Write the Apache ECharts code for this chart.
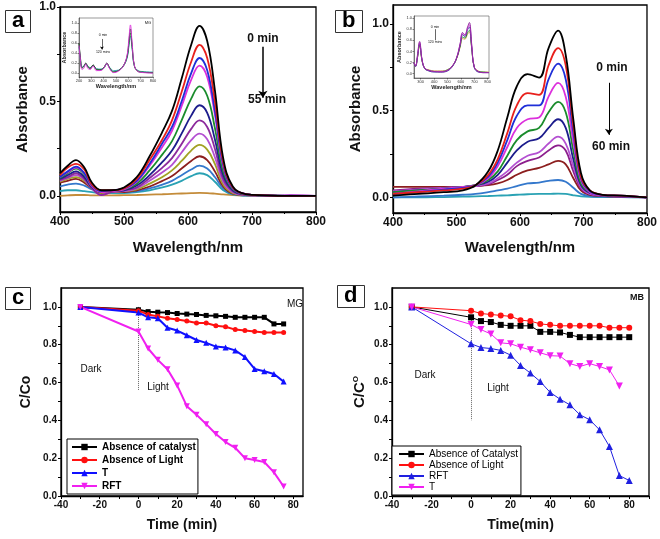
<!DOCTYPE html>
<html>
<head>
<meta charset="utf-8">
<script src="https://cdn.jsdelivr.net/npm/echarts@6/dist/echarts.min.js"></script>
<style>
html, body { margin: 0; padding: 0; background: #fff; }
#main { width: 660px; height: 539px; }
</style>
</head>
<body>
<div id="main"></div>
<script>
// ---- panel a : MG spectra, 0 -> 55 min ----
const waveA = [400, 412, 425, 438, 450, 465, 480, 500, 520, 540, 560, 575, 590, 605, 618, 630, 642, 655, 670, 690, 720, 760, 800];
const specA = [
  [0.12, 0.16, 0.19, 0.15, 0.07, 0.03, 0.03, 0.045, 0.10, 0.21, 0.34, 0.45, 0.62, 0.80, 0.90, 0.82, 0.56, 0.20, 0.05, 0.01, 0.003, 0, 0],
  [0.11, 0.15, 0.17, 0.14, 0.06, 0.03, 0.03, 0.04, 0.09, 0.19, 0.30, 0.40, 0.55, 0.71, 0.80, 0.73, 0.50, 0.18, 0.045, 0.01, 0.003, 0, 0],
  [0.10, 0.13, 0.155, 0.12, 0.055, 0.025, 0.03, 0.04, 0.08, 0.17, 0.28, 0.365, 0.50, 0.65, 0.73, 0.665, 0.45, 0.165, 0.04, 0.01, 0.003, 0, 0],
  [0.10, 0.125, 0.15, 0.12, 0.05, 0.02, 0.025, 0.035, 0.075, 0.16, 0.26, 0.345, 0.475, 0.615, 0.69, 0.63, 0.43, 0.155, 0.04, 0.01, 0.003, 0, 0],
  [0.095, 0.12, 0.145, 0.115, 0.05, 0.02, 0.025, 0.035, 0.065, 0.135, 0.22, 0.29, 0.40, 0.515, 0.58, 0.53, 0.36, 0.13, 0.035, 0.008, 0.003, 0, 0],
  [0.09, 0.11, 0.13, 0.10, 0.045, 0.02, 0.025, 0.03, 0.055, 0.11, 0.18, 0.24, 0.33, 0.425, 0.48, 0.44, 0.30, 0.11, 0.03, 0.008, 0.003, 0, 0],
  [0.085, 0.10, 0.12, 0.09, 0.04, 0.005, 0.02, 0.03, 0.045, 0.095, 0.15, 0.20, 0.275, 0.355, 0.40, 0.365, 0.25, 0.09, 0.025, 0.006, 0.003, 0, 0],
  [0.08, 0.095, 0.11, 0.085, 0.04, 0.005, 0.02, 0.025, 0.04, 0.08, 0.125, 0.165, 0.23, 0.295, 0.33, 0.30, 0.205, 0.075, 0.02, 0.005, 0.002, 0.005, 0],
  [0.075, 0.09, 0.10, 0.08, 0.04, 0.01, 0.02, 0.025, 0.035, 0.065, 0.10, 0.135, 0.185, 0.24, 0.27, 0.245, 0.17, 0.06, 0.015, 0.005, 0.002, 0, 0],
  [0.07, 0.08, 0.09, 0.07, 0.04, 0.015, 0.02, 0.02, 0.03, 0.05, 0.08, 0.105, 0.145, 0.185, 0.21, 0.19, 0.13, 0.05, 0.012, 0.004, 0.002, 0, 0],
  [0.05, 0.06, 0.065, 0.055, 0.035, 0.025, 0.025, 0.02, 0.025, 0.04, 0.06, 0.08, 0.11, 0.14, 0.16, 0.145, 0.10, 0.04, 0.01, 0.003, 0.001, 0, 0],
  [0.025, 0.03, 0.03, 0.025, 0.02, 0.015, 0.015, 0.015, 0.02, 0.03, 0.045, 0.06, 0.08, 0.105, 0.12, 0.11, 0.075, 0.03, 0.008, 0.002, 0.001, 0, 0],
  [0, 0.003, 0.005, 0.005, 0.003, 0.003, 0.003, 0.004, 0.005, 0.007, 0.009, 0.011, 0.013, 0.015, 0.016, 0.015, 0.012, 0.008, 0.004, 0.002, 0.001, 0, 0]
];
const colorsA = ['#000000', '#e8201c', '#1f2fd8', '#dc30dc', '#1a8c2c', '#1c1c8c', '#8c2a9c', '#b450d2', '#a2a224', '#8c1e1e', '#3478cc', '#2aa2b4', '#c48c3a'];

// ---- panel b : MB spectra, 0 -> 60 min ----
const waveB = [400, 440, 480, 510, 530, 550, 565, 580, 595, 612, 630, 645, 660, 672, 684, 696, 710, 730, 760, 800];
const specB = [
  [0.01, 0.02, 0.03, 0.04, 0.07, 0.15, 0.27, 0.46, 0.64, 0.71, 0.69, 0.86, 0.96, 0.82, 0.45, 0.14, 0.04, 0.015, 0.01, 0],
  [0.02, 0.03, 0.04, 0.05, 0.07, 0.13, 0.22, 0.37, 0.53, 0.60, 0.59, 0.76, 0.86, 0.76, 0.41, 0.12, 0.04, 0.015, 0.01, 0],
  [0.02, 0.03, 0.045, 0.055, 0.07, 0.12, 0.20, 0.33, 0.47, 0.53, 0.53, 0.68, 0.77, 0.68, 0.37, 0.11, 0.035, 0.015, 0.01, 0],
  [0.02, 0.035, 0.05, 0.06, 0.07, 0.11, 0.18, 0.29, 0.40, 0.45, 0.46, 0.58, 0.66, 0.58, 0.32, 0.10, 0.03, 0.012, 0.008, 0],
  [0.03, 0.04, 0.05, 0.06, 0.07, 0.10, 0.15, 0.24, 0.33, 0.38, 0.40, 0.49, 0.55, 0.49, 0.27, 0.08, 0.03, 0.012, 0.008, 0],
  [0.03, 0.04, 0.05, 0.06, 0.07, 0.09, 0.13, 0.20, 0.27, 0.32, 0.34, 0.40, 0.45, 0.40, 0.22, 0.07, 0.025, 0.01, 0.006, 0],
  [0.035, 0.045, 0.055, 0.06, 0.065, 0.08, 0.11, 0.15, 0.20, 0.24, 0.26, 0.31, 0.35, 0.31, 0.18, 0.06, 0.02, 0.01, 0.005, 0],
  [0.04, 0.05, 0.055, 0.06, 0.065, 0.075, 0.10, 0.13, 0.18, 0.21, 0.23, 0.27, 0.30, 0.27, 0.15, 0.05, 0.02, 0.01, 0.005, 0],
  [0.06, 0.06, 0.06, 0.06, 0.065, 0.07, 0.08, 0.10, 0.13, 0.155, 0.17, 0.19, 0.21, 0.19, 0.11, 0.04, 0.015, 0.008, 0.004, 0],
  [0, 0.005, 0.01, 0.015, 0.02, 0.03, 0.04, 0.05, 0.065, 0.08, 0.085, 0.095, 0.10, 0.09, 0.055, 0.02, 0.008, 0.004, 0.002, 0],
  [0, 0, 0.002, 0.004, 0.006, 0.008, 0.01, 0.012, 0.015, 0.018, 0.02, 0.02, 0.022, 0.02, 0.012, 0.006, 0.003, 0.002, 0.001, 0]
];
const colorsB = ['#000000', '#e8201c', '#1f2fd8', '#dc30dc', '#1a8c2c', '#1c1c8c', '#b450d2', '#8c1e8c', '#8c1e1e', '#3478cc', '#2aa2b4'];

// ---- insets (full range spectra, 0 -> 120 mins) ----
const waveIA = [200, 210, 225, 240, 255, 270, 290, 315, 340, 370, 400, 425, 450, 480, 520, 560, 590, 605, 617, 630, 650, 680, 720, 800];
const specIA = [
  [0.52, 0.30, 0.12, 0.15, 0.18, 0.15, 0.11, 0.15, 0.09, 0.08, 0.10, 0.18, 0.11, 0.05, 0.06, 0.14, 0.30, 0.54, 0.74, 0.50, 0.13, 0.05, 0.03, 0.02],
  [0.58, 0.33, 0.11, 0.14, 0.19, 0.14, 0.10, 0.16, 0.08, 0.07, 0.10, 0.19, 0.10, 0.03, 0.05, 0.14, 0.32, 0.58, 0.80, 0.53, 0.13, 0.04, 0.02, 0.01],
  [0.60, 0.35, 0.10, 0.13, 0.20, 0.13, 0.09, 0.16, 0.07, 0.06, 0.10, 0.20, 0.09, 0.02, 0.05, 0.15, 0.34, 0.64, 0.88, 0.58, 0.14, 0.03, 0.015, 0.005],
  [0.55, 0.30, 0.07, 0.10, 0.18, 0.10, 0.07, 0.14, 0.05, 0.05, 0.09, 0.19, 0.08, 0.01, 0.04, 0.14, 0.36, 0.70, 0.96, 0.62, 0.14, 0.03, 0.01, 0]
];
const colorsIA = ['#2aa2b4', '#1a8c2c', '#333333', '#dc30dc'];

const waveIB = [250, 262, 275, 292, 310, 330, 360, 400, 450, 500, 540, 570, 595, 612, 630, 650, 664, 680, 700, 730, 770, 810];
const specIB = [
  [0.18, 0.14, 0.27, 0.50, 0.23, 0.10, 0.07, 0.05, 0.05, 0.07, 0.15, 0.28, 0.48, 0.63, 0.62, 0.71, 0.75, 0.47, 0.12, 0.05, 0.03, 0.03],
  [0.19, 0.14, 0.28, 0.52, 0.24, 0.10, 0.06, 0.04, 0.04, 0.07, 0.15, 0.29, 0.50, 0.66, 0.64, 0.74, 0.78, 0.48, 0.12, 0.04, 0.03, 0.02],
  [0.19, 0.13, 0.28, 0.54, 0.24, 0.09, 0.05, 0.03, 0.03, 0.05, 0.14, 0.29, 0.52, 0.70, 0.67, 0.79, 0.84, 0.50, 0.11, 0.03, 0.02, 0.02],
  [0.20, 0.14, 0.30, 0.56, 0.25, 0.10, 0.06, 0.04, 0.04, 0.06, 0.15, 0.30, 0.54, 0.72, 0.69, 0.82, 0.88, 0.53, 0.12, 0.04, 0.02, 0.02],
  [0.20, 0.14, 0.32, 0.58, 0.26, 0.10, 0.06, 0.04, 0.03, 0.06, 0.15, 0.30, 0.55, 0.74, 0.70, 0.84, 0.92, 0.55, 0.12, 0.04, 0.02, 0.02]
];
const colorsIB = ['#d49a40', '#1a8c2c', '#1c1c8c', '#dc30dc', '#8c2a9c'];

// ---- panel c : MG degradation ----
const timeC = [-30, 0, 5, 10, 15, 20, 25, 30, 35, 40, 45, 50, 55, 60, 65, 70, 75];
const cNoCatalyst = [1.0, 0.985, 0.975, 0.972, 0.97, 0.965, 0.962, 0.96, 0.955, 0.953, 0.95, 0.945, 0.945, 0.945, 0.945, 0.91, 0.91];
const cNoLight = [1.0, 0.98, 0.96, 0.95, 0.94, 0.933, 0.925, 0.915, 0.915, 0.9, 0.895, 0.88, 0.875, 0.87, 0.865, 0.865, 0.865];
const cT = [1.0, 0.97, 0.945, 0.94, 0.89, 0.875, 0.85, 0.825, 0.81, 0.79, 0.785, 0.77, 0.735, 0.672, 0.66, 0.645, 0.605];
const cRFT = [1.0, 0.87, 0.78, 0.72, 0.67, 0.585, 0.475, 0.43, 0.38, 0.328, 0.285, 0.255, 0.2, 0.19, 0.18, 0.125, 0.05];

// ---- panel d : MB degradation ----
const timeD = [-30, 0, 5, 10, 15, 20, 25, 30, 35, 40, 45, 50, 55, 60, 65, 70, 75, 80];
const dNoCatalyst = [1.0, 0.945, 0.925, 0.92, 0.905, 0.9, 0.9, 0.9, 0.868, 0.868, 0.865, 0.852, 0.84, 0.84, 0.84, 0.84, 0.84, 0.84];
const dNoLight = [1.0, 0.98, 0.965, 0.96, 0.955, 0.95, 0.93, 0.925, 0.91, 0.905, 0.9, 0.9, 0.9, 0.9, 0.9, 0.89, 0.89, 0.89];
const dRFT = [1.0, 0.805, 0.785, 0.78, 0.77, 0.745, 0.69, 0.65, 0.605, 0.548, 0.512, 0.482, 0.43, 0.403, 0.35, 0.262, 0.108, 0.082];
const dT = [1.0, 0.907, 0.88, 0.857, 0.81, 0.805, 0.787, 0.773, 0.757, 0.742, 0.74, 0.7, 0.685, 0.7, 0.685, 0.667, 0.582];

const FONT = '"Liberation Sans", Arial, sans-serif';

function pairs(xs, ys) {
  return ys.map((v, i) => [xs[i], v]);
}

function axis(gridIndex, opt) {
  return Object.assign({
    type: 'value',
    gridIndex: gridIndex,
    splitLine: { show: false },
    axisLine: { onZero: false, lineStyle: { color: '#000', width: 1.3 } },
    axisTick: { inside: false, length: 3, lineStyle: { color: '#000' } },
    nameLocation: 'middle',
    nameTextStyle: { fontFamily: FONT, fontWeight: 'bold', color: '#111' }
  }, opt);
}

function labelStyle(size, digits, values) {
  return {
    customValues: values,
    margin: 4,
    fontFamily: FONT,
    fontWeight: 'bold',
    fontSize: size,
    color: '#111',
    formatter: v => Number(v).toFixed(digits)
  };
}

const series = [];

specA.forEach((ys, i) => series.push({
  type: 'line', name: 'a' + i, xAxisIndex: 0, yAxisIndex: 0,
  data: pairs(waveA, ys), smooth: 0.4, showSymbol: false,
  lineStyle: { width: 1.8, color: colorsA[i] }, z: 30 - i
}));
series[0].markLine = {
  silent: true, symbol: ['none', 'arrow'], symbolSize: 7,
  label: { show: false },
  lineStyle: { color: '#000', width: 1.5, type: 'solid' },
  data: [[{ coord: [717, 0.79] }, { coord: [717, 0.52] }]]
};

specB.forEach((ys, i) => series.push({
  type: 'line', name: 'b' + i, xAxisIndex: 1, yAxisIndex: 1,
  data: pairs(waveB, ys), smooth: 0.4, showSymbol: false,
  lineStyle: { width: 1.8, color: colorsB[i] }, z: 30 - i,
  markLine: i === 0 ? {
    silent: true, symbol: ['none', 'arrow'], symbolSize: 6,
    label: { show: false },
    lineStyle: { color: '#000', width: 1, type: 'solid' },
    data: [[{ coord: [740, 0.66] }, { coord: [740, 0.36] }]]
  } : undefined
}));

specIA.forEach((ys, i) => series.push({
  type: 'line', name: 'ia' + i, xAxisIndex: 4, yAxisIndex: 4,
  data: pairs(waveIA, ys), smooth: 0.4, showSymbol: false,
  lineStyle: { width: 0.9, color: colorsIA[i] },
  markLine: i === 0 ? {
    silent: true, symbol: ['none', 'arrow'], symbolSize: 3,
    label: { show: false },
    lineStyle: { color: '#000', width: 0.6, type: 'solid' },
    data: [[{ coord: [386, 0.68] }, { coord: [386, 0.47] }]]
  } : undefined
}));

specIB.forEach((ys, i) => series.push({
  type: 'line', name: 'ib' + i, xAxisIndex: 5, yAxisIndex: 5,
  data: pairs(waveIB, ys), smooth: 0.4, showSymbol: false,
  lineStyle: { width: 0.9, color: colorsIB[i] },
  markLine: i === 0 ? {
    silent: true, symbol: ['none', 'none'],
    label: { show: false },
    lineStyle: { color: '#000', width: 0.6, type: 'solid' },
    data: [[{ coord: [405, 0.80] }, { coord: [405, 0.60] }]]
  } : undefined
}));

function kinetic(name, xi, xs, ys, color, symbol, rotate, width, size) {
  return {
    type: 'line', name: name, xAxisIndex: xi, yAxisIndex: xi,
    data: pairs(xs, ys), symbol: symbol, symbolRotate: rotate, symbolSize: size,
    itemStyle: { color: color }, lineStyle: { color: color, width: width }, z: 5
  };
}

series.push(kinetic('c|Absence of catalyst', 2, timeC, cNoCatalyst, '#000000', 'rect', 0, 2, 5));
series.push(kinetic('c|Absence of Light', 2, timeC, cNoLight, '#ff1010', 'circle', 0, 2, 5));
series.push(kinetic('c|T', 2, timeC, cT, '#1010ff', 'triangle', 0, 2, 6));
series.push(kinetic('c|RFT', 2, timeC, cRFT, '#f020f0', 'triangle', 180, 2, 6));
series.push(kinetic('d|Absence of Catalyst', 3, timeD, dNoCatalyst, '#000000', 'rect', 0, 1, 6));
series.push(kinetic('d|Absence of Light', 3, timeD, dNoLight, '#ff1010', 'circle', 0, 1, 6));
series.push(kinetic('d|RFT', 3, timeD, dRFT, '#2020e0', 'triangle', 0, 1, 7));
series.push(kinetic('d|T', 3, timeD, dT, '#f020f0', 'triangle', 180, 1, 7));

// dotted dark/light separators
series[series.length - 8].markLine = {
  silent: true, symbol: ['none', 'none'], label: { show: false },
  lineStyle: { color: '#666', width: 1, type: 'dotted' },
  data: [[{ coord: [0, 1.0] }, { coord: [0, 0.56] }]]
};
series[series.length - 4].markLine = {
  silent: true, symbol: ['none', 'none'], label: { show: false },
  lineStyle: { color: '#666', width: 1, type: 'dotted' },
  data: [[{ coord: [0, 0.93] }, { coord: [0, 0.40] }]]
};

const gridBox = { show: true, borderColor: '#000', borderWidth: 1.3, containLabel: false };

const legendBase = {
  orient: 'vertical', itemWidth: 25, itemHeight: 8, selectedMode: false,
  borderColor: '#000', borderWidth: 1, backgroundColor: '#fff',
  formatter: n => n.slice(2)
};

function note(text, x, y, size, weight) {
  return {
    type: 'text', x: x, y: y, z: 100,
    style: {
      text: text, fill: '#111', align: 'center', verticalAlign: 'middle',
      font: (weight || 'normal') + ' ' + size + 'px ' + FONT
    }
  };
}

const option = {
  animation: false,
  backgroundColor: '#fff',
  title: ['a', 'b', 'c', 'd'].map((t, i) => ({
    text: t,
    left: [5, 335, 5, 337][i],
    top: [10, 10, 287, 285][i],
    padding: [0, 7, 1, 7],
    borderColor: '#333', borderWidth: 1,
    textStyle: { fontFamily: FONT, fontWeight: 'bold', fontSize: 22, lineHeight: 22, color: '#000' }
  })),
  grid: [
    Object.assign({ left: 60, top: 7, width: 256, height: 205 }, gridBox),
    Object.assign({ left: 393, top: 5, width: 256, height: 208 }, gridBox),
    Object.assign({ left: 61, top: 288, width: 242, height: 208 }, gridBox),
    Object.assign({ left: 392, top: 288, width: 257, height: 208 }, gridBox),
    { show: true, left: 79, top: 18, width: 74, height: 59, borderColor: '#555', borderWidth: 0.6 },
    { show: true, left: 414, top: 16, width: 75, height: 62, borderColor: '#555', borderWidth: 0.6 }
  ],
  xAxis: [
    axis(0, {
      min: 400, max: 800, interval: 100, name: 'Wavelength/nm', nameGap: 28,
      nameTextStyle: { fontFamily: FONT, fontWeight: 'bold', fontSize: 15, color: '#111' },
      axisLabel: labelStyle(12, 0), minorTick: { show: true, splitNumber: 2, length: 2, lineStyle: { color: '#000' } }
    }),
    axis(1, {
      min: 400, max: 800, interval: 100, name: 'Wavelength/nm', nameGap: 27,
      nameTextStyle: { fontFamily: FONT, fontWeight: 'bold', fontSize: 15, color: '#111' },
      axisLabel: labelStyle(12, 0), minorTick: { show: true, splitNumber: 2, length: 2, lineStyle: { color: '#000' } }
    }),
    axis(2, {
      min: -40, max: 85, name: 'Time (min)', nameGap: 22,
      nameTextStyle: { fontFamily: FONT, fontWeight: 'bold', fontSize: 14, color: '#111' },
      axisLabel: labelStyle(10, 0, [-40, -20, 0, 20, 40, 60, 80]),
      axisTick: { length: 3, customValues: [-40, -30, -20, -10, 0, 10, 20, 30, 40, 50, 60, 70, 80], lineStyle: { color: '#000' } }
    }),
    axis(3, {
      min: -40, max: 90, name: 'Time(min)', nameGap: 22,
      nameTextStyle: { fontFamily: FONT, fontWeight: 'bold', fontSize: 14, color: '#111' },
      axisLabel: labelStyle(10, 0, [-40, -20, 0, 20, 40, 60, 80]),
      axisTick: { length: 3, customValues: [-40, -30, -20, -10, 0, 10, 20, 30, 40, 50, 60, 70, 80, 90], lineStyle: { color: '#000' } }
    }),
    axis(4, {
      min: 200, max: 800, interval: 100, name: 'Wavelength/nm', nameGap: 6,
      axisLine: { onZero: false, lineStyle: { color: '#333', width: 0.6 } },
      axisTick: { length: 1.5, lineStyle: { color: '#333', width: 0.6 } },
      nameTextStyle: { fontFamily: FONT, fontWeight: 'bold', fontSize: 5.5, color: '#222' },
      axisLabel: { margin: 2, fontSize: 4, fontFamily: FONT, color: '#333' }
    }),
    axis(5, {
      min: 250, max: 810, name: 'Wavelength/nm', nameGap: 6,
      axisLine: { onZero: false, lineStyle: { color: '#333', width: 0.6 } },
      axisTick: { length: 1.5, customValues: [300, 400, 500, 600, 700, 800], lineStyle: { color: '#333', width: 0.6 } },
      nameTextStyle: { fontFamily: FONT, fontWeight: 'bold', fontSize: 5.5, color: '#222' },
      axisLabel: { margin: 2, fontSize: 4, fontFamily: FONT, color: '#333', customValues: [300, 400, 500, 600, 700, 800] }
    })
  ],
  yAxis: [
    axis(0, {
      min: -0.085, max: 1.0, name: 'Absorbance', nameGap: 30,
      nameTextStyle: { fontFamily: FONT, fontWeight: 'bold', fontSize: 15, color: '#111' },
      axisLabel: labelStyle(12, 1, [0, 0.5, 1.0]),
      axisTick: { length: 3, customValues: [0, 0.25, 0.5, 0.75, 1.0], lineStyle: { color: '#000' } }
    }),
    axis(1, {
      min: -0.09, max: 1.108, name: 'Absorbance', nameGap: 30,
      nameTextStyle: { fontFamily: FONT, fontWeight: 'bold', fontSize: 15, color: '#111' },
      axisLabel: labelStyle(12, 1, [0, 0.5, 1.0]),
      axisTick: { length: 3, customValues: [0, 0.25, 0.5, 0.75, 1.0], lineStyle: { color: '#000' } }
    }),
    axis(2, {
      min: 0, max: 1.1, name: 'C/Co', nameGap: 28,
      nameTextStyle: { fontFamily: FONT, fontWeight: 'bold', fontSize: 14, color: '#111' },
      axisLabel: labelStyle(10, 1, [0, 0.2, 0.4, 0.6, 0.8, 1.0]),
      axisTick: { length: 3, customValues: [0, 0.1, 0.2, 0.3, 0.4, 0.5, 0.6, 0.7, 0.8, 0.9, 1.0], lineStyle: { color: '#000' } }
    }),
    axis(3, {
      min: 0, max: 1.1, name: 'C/C{s|O}', nameGap: 24,
      nameTextStyle: {
        fontFamily: FONT, fontWeight: 'bold', fontSize: 15, color: '#111',
        rich: { s: { fontFamily: FONT, fontWeight: 'bold', fontSize: 8, color: '#111', padding: [0, 0, 8, 0] } }
      },
      axisLabel: labelStyle(10, 1, [0, 0.2, 0.4, 0.6, 0.8, 1.0]),
      axisTick: { length: 3, customValues: [0, 0.1, 0.2, 0.3, 0.4, 0.5, 0.6, 0.7, 0.8, 0.9, 1.0], lineStyle: { color: '#000' } }
    }),
    axis(4, {
      min: -0.078, max: 1.098, name: 'Absorbance', nameGap: 10,
      axisLine: { onZero: false, lineStyle: { color: '#333', width: 0.6 } },
      axisTick: { length: 1.5, customValues: [0, 0.2, 0.4, 0.6, 0.8, 1.0], lineStyle: { color: '#333', width: 0.6 } },
      nameTextStyle: { fontFamily: FONT, fontWeight: 'bold', fontSize: 5.5, color: '#222' },
      axisLabel: { margin: 2, fontSize: 4, fontFamily: FONT, color: '#333', customValues: [0, 0.2, 0.4, 0.6, 0.8, 1.0], formatter: v => Number(v).toFixed(1) }
    }),
    axis(5, {
      min: -0.077, max: 1.036, name: 'Absorbance', nameGap: 10,
      axisLine: { onZero: false, lineStyle: { color: '#333', width: 0.6 } },
      axisTick: { length: 1.5, customValues: [0, 0.2, 0.4, 0.6, 0.8, 1.0], lineStyle: { color: '#333', width: 0.6 } },
      nameTextStyle: { fontFamily: FONT, fontWeight: 'bold', fontSize: 5.5, color: '#222' },
      axisLabel: { margin: 2, fontSize: 4, fontFamily: FONT, color: '#333', customValues: [0, 0.2, 0.4, 0.6, 0.8, 1.0], formatter: v => Number(v).toFixed(1) }
    })
  ],
  legend: [
    Object.assign({}, legendBase, {
      data: ['c|Absence of catalyst', 'c|Absence of Light', 'c|T', 'c|RFT'],
      left: 67, top: 439, itemGap: 3, padding: [3, 2, 3, 4],
      textStyle: { fontFamily: FONT, fontWeight: 'bold', fontSize: 10, color: '#000' }
    }),
    Object.assign({}, legendBase, {
      data: ['d|Absence of Catalyst', 'd|Absence of Light', 'd|RFT', 'd|T'],
      left: 392, top: 446, itemGap: 1, itemHeight: 8, padding: [3, 3, 3, 6],
      textStyle: { fontFamily: FONT, fontSize: 10, color: '#000' }
    })
  ],
  graphic: [
    note('0 min', 263, 39, 12, 'bold'),
    note('55 min', 267, 100, 12, 'bold'),
    note('0 min', 612, 68, 12, 'bold'),
    note('60 min', 611, 147, 12, 'bold'),
    note('0 min', 103, 35, 3.5),
    note('120 mins', 103, 52, 3.5),
    note('MG', 148, 23, 4),
    note('0 min', 435, 27, 3.5),
    note('120 mins', 435, 42, 3.5),
    note('Dark', 91, 369, 10),
    note('Light', 158, 387, 10),
    note('MG', 295, 304, 10),
    note('Dark', 425, 375, 10),
    note('Light', 498, 388, 10),
    note('MB', 637, 298, 9, 'bold')
  ],
  series: series
};

const chart = echarts.init(document.getElementById('main'));
chart.setOption(option);
</script>
</body>
</html>
